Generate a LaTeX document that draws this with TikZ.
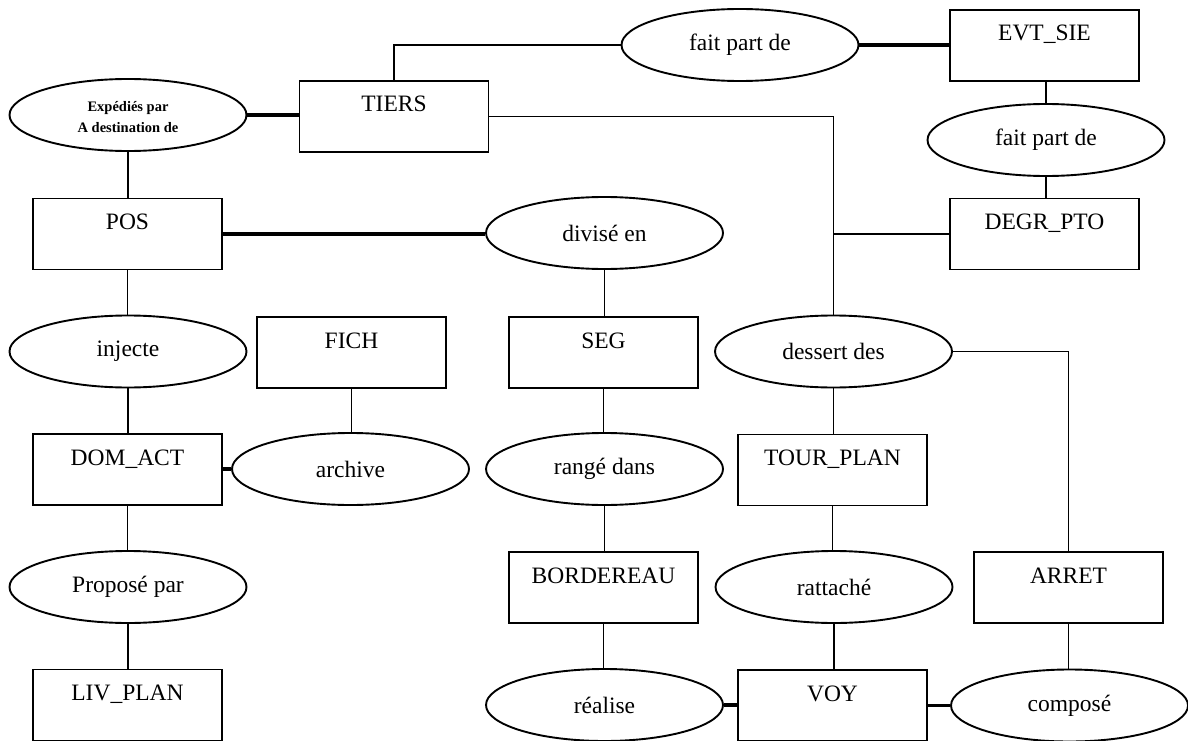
\documentclass[tikz,border=0pt]{standalone}
\usepackage{fontspec}
\setmainfont{Liberation Serif}
\usetikzlibrary{shapes.geometric}
\begin{document}
\begin{tikzpicture}[x=1pt,y=-1pt,
  ent/.style={draw, line width=1.9pt, rectangle, inner sep=0pt, minimum width=189pt,
    text height=31pt, text depth=40pt, font=\fontsize{23.5}{27}\selectfont},
  rel/.style={draw, line width=1.9pt, ellipse, inner sep=0pt, minimum width=237pt,
    minimum height=72pt, font=\fontsize{23.5}{27}\selectfont},
  link/.style={line width=1.9pt},
  blink/.style={line width=3.2pt}]
\useasboundingbox (0,0) rectangle (1188,741);

% entities
\node[ent] (evt)   at (1044.5,45.5) {EVT\_SIE};
\node[ent] (tiers) at (394,116.5)   {TIERS};
\node[ent] (degr)  at (1044.5,234)  {DEGR\_PTO};
\node[ent] (pos)   at (127.5,234)   {POS};
\node[ent] (fich)  at (351.5,352.5) {FICH};
\node[ent] (seg)   at (603.5,352.5) {SEG};
\node[ent] (dom)   at (127.5,469.5) {DOM\_ACT};
\node[ent] (tour)  at (832.5,470)   {TOUR\_PLAN};
\node[ent] (bord)  at (603.5,587.5) {BORDEREAU};
\node[ent] (arret) at (1068.5,587.5){ARRET};
\node[ent] (liv)   at (127.5,705)   {LIV\_PLAN};
\node[ent] (voy)   at (832.5,705.5) {VOY};

% relations
\node[rel] (fait1)   at (740,45)      {fait part de};
\node[rel] (fait2)   at (1046,140)    {fait part de};
\node[rel, align=center, font=\fontsize{14.5}{21}\selectfont\bfseries] (exped) at (128,115)
  {\rule{0pt}{14pt}Expédiés par\\A destination de};
\node[rel] (divise)  at (604.5,233)   {divisé en};
\node[rel] (injecte) at (128,351.5)   {injecte};
\node[rel] (dessert) at (833.5,351.5) {dessert des};
\node[rel] (archive) at (350.5,469)   {archive};
\node[rel] (range)   at (604.5,469)   {rangé dans};
\node[rel] (propose) at (128,587)     {Proposé par};
\node[rel] (rattache) at (834,587)    {rattaché};
\node[rel] (realise) at (604.5,705)   {réalise};
\node[rel] (compose) at (1069.5,705.5){composé};

% connectors
\draw[blink] (exped.east) -- (exped.east -| tiers.west);
\draw[link] (exped.south) -- (exped.south |- pos.north);
\draw[link] (tiers.north) |- (fait1.west);
\draw[blink] (fait1.east) -- (fait1.east -| evt.west);
\draw[link] (evt.south -| fait2.north) -- (fait2.north);
\draw[link] (fait2.south) -- (fait2.south |- degr.north);
\draw[link] (tiers.east) -| (dessert.north);
\coordinate (br) at (dessert.north |- degr.west);
\draw[link] (br) -- (degr.west);
\draw[blink] (pos.east) -- (pos.east -| divise.west);
\draw[link] (divise.south) -- (divise.south |- seg.north);
\draw[link] (seg.south) -- (seg.south |- range.north);
\draw[link] (range.south) -- (range.south |- bord.north);
\draw[link] (bord.south) -- (bord.south |- realise.north);
\draw[blink] (realise.east) -- (realise.east -| voy.west);
\draw[blink] (voy.east |- compose.west) -- (compose.west);
\draw[link] (dessert.south) -- (dessert.south |- tour.north);
\draw[link] (tour.south) -- (tour.south |- rattache.north);
\draw[link] (rattache.south) -- (rattache.south |- voy.north);
\draw[link] (dessert.east) -| (arret.north);
\draw[link] (arret.south) -- (arret.south |- compose.north);
\draw[link] (pos.south) -- (pos.south |- injecte.north);
\draw[link] (injecte.south) -- (injecte.south |- dom.north);
\draw[blink] (dom.east |- archive.west) -- (archive.west);
\draw[link] (fich.south) -- (fich.south |- archive.north);
\draw[link] (dom.south) -- (dom.south |- propose.north);
\draw[link] (propose.south) -- (propose.south |- liv.north);
\end{tikzpicture}
\end{document}
